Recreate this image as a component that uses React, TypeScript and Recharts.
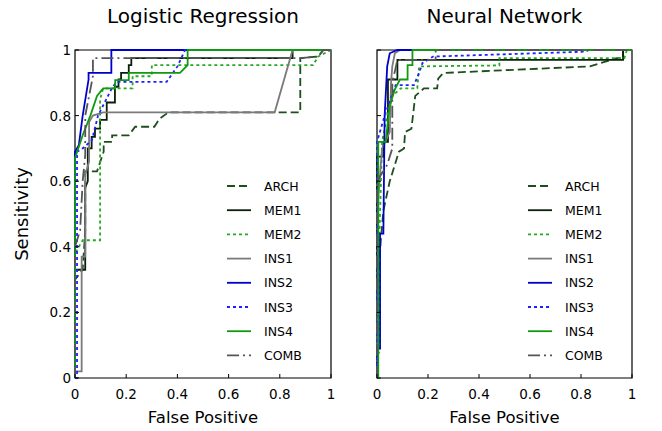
import React from "react";
import { LineChart, Line, XAxis, YAxis, ReferenceArea } from "recharts";

type Pt = [number, number];

const seriesNames = ["ARCH", "MEM1", "MEM2", "INS1", "INS2", "INS3", "INS4", "COMB"];
const axisTicks = [0, 0.2, 0.4, 0.6, 0.8, 1];
const tickLabels = ["0", "0.2", "0.4", "0.6", "0.8", "1"];

// Logistic Regression ROC points (fpr, tpr)
const lrArch: Pt[] = [[0, 0], [0, 0.3], [0.03, 0.33], [0.04, 0.45], [0.04, 0.63], [0.086, 0.63], [0.112, 0.69], [0.112, 0.72], [0.145, 0.72], [0.145, 0.74], [0.21, 0.74], [0.235, 0.766], [0.31, 0.766], [0.33, 0.79], [0.365, 0.81], [0.88, 0.81], [0.88, 0.975], [0.95, 0.98], [0.97, 1], [1, 1]];
const lrMem1: Pt[] = [[0, 0], [0, 0.33], [0.04, 0.33], [0.04, 0.58], [0.05, 0.6], [0.05, 0.7], [0.065, 0.7], [0.065, 0.735], [0.078, 0.735], [0.078, 0.76], [0.098, 0.76], [0.098, 0.787], [0.124, 0.787], [0.124, 0.84], [0.156, 0.84], [0.156, 0.888], [0.17, 0.888], [0.17, 0.91], [0.18, 0.91], [0.18, 0.93], [0.21, 0.93], [0.21, 0.954], [0.22, 0.954], [0.22, 0.975], [0.85, 0.975], [0.85, 1], [1, 1]];
const lrMem2: Pt[] = [[0, 0], [0, 0.38], [0.03, 0.42], [0.098, 0.42], [0.098, 0.85], [0.11, 0.883], [0.225, 0.883], [0.225, 0.92], [0.3, 0.92], [0.3, 0.954], [0.93, 0.954], [0.95, 0.98], [1, 1]];
const lrIns1: Pt[] = [[0, 0], [0, 0.02], [0.026, 0.02], [0.026, 0.37], [0.04, 0.37], [0.04, 0.62], [0.055, 0.66], [0.055, 0.78], [0.07, 0.8], [0.11, 0.81], [0.78, 0.81], [0.85, 1], [1, 1]];
const lrIns2: Pt[] = [[0, 0], [0, 0.69], [0.015, 0.71], [0.03, 0.8], [0.053, 0.91], [0.053, 0.93], [0.142, 0.93], [0.142, 1], [1, 1]];
const lrIns3: Pt[] = [[0, 0], [0.008, 0], [0.008, 0.69], [0.03, 0.7], [0.066, 0.725], [0.09, 0.8], [0.145, 0.885], [0.163, 0.903], [0.358, 0.903], [0.4, 0.95], [0.43, 1], [1, 1]];
const lrIns4: Pt[] = [[0, 0], [0, 0.67], [0.03, 0.74], [0.06, 0.8], [0.086, 0.86], [0.11, 0.883], [0.157, 0.883], [0.157, 0.908], [0.21, 0.908], [0.21, 0.93], [0.41, 0.93], [0.44, 0.954], [0.44, 1], [1, 1]];
const lrComb: Pt[] = [[0, 0], [0, 0.4], [0.02, 0.45], [0.03, 0.6], [0.04, 0.68], [0.04, 0.8], [0.07, 0.92], [0.07, 0.975], [0.88, 0.975], [0.95, 0.98], [0.97, 1], [1, 1]];

// Neural Network ROC points (fpr, tpr)
const nnArch: Pt[] = [[0, 0], [0.005, 0.3], [0.015, 0.42], [0.025, 0.51], [0.05, 0.6], [0.07, 0.65], [0.086, 0.69], [0.106, 0.7], [0.11, 0.75], [0.135, 0.76], [0.15, 0.86], [0.184, 0.883], [0.236, 0.883], [0.24, 0.913], [0.26, 0.93], [0.835, 0.95], [0.94, 0.975], [0.965, 0.975], [0.965, 1], [1, 1]];
const nnMem1: Pt[] = [[0, 0], [0, 0.675], [0.025, 0.675], [0.025, 0.72], [0.043, 0.72], [0.043, 0.91], [0.08, 0.91], [0.08, 0.97], [0.965, 0.97], [0.965, 1], [1, 1]];
const nnMem2: Pt[] = [[0, 0], [0, 0.07], [0.01, 0.08], [0.01, 0.45], [0.02, 0.72], [0.04, 0.8], [0.06, 0.86], [0.093, 0.883], [0.158, 0.883], [0.165, 0.95], [0.48, 0.953], [0.48, 0.975], [0.97, 0.975], [0.98, 1], [1, 1]];
const nnIns1: Pt[] = [[0, 0], [0.005, 0.55], [0.02, 0.7], [0.05, 0.75], [0.055, 0.9], [0.06, 0.95], [0.07, 0.99], [0.09, 1], [1, 1]];
const nnIns2: Pt[] = [[0, 0], [0, 0.09], [0.012, 0.09], [0.012, 0.44], [0.025, 0.44], [0.03, 0.8], [0.04, 0.95], [0.05, 0.99], [0.08, 1], [1, 1]];
const nnIns3: Pt[] = [[0, 0], [0, 0.72], [0.03, 0.8], [0.073, 0.893], [0.145, 0.893], [0.165, 0.93], [0.178, 0.96], [0.22, 0.98], [0.82, 0.995], [0.83, 1], [1, 1]];
const nnIns4: Pt[] = [[0, 0], [0.005, 0], [0.005, 0.72], [0.034, 0.72], [0.05, 0.83], [0.07, 0.88], [0.09, 0.91], [0.12, 0.91], [0.12, 0.954], [0.139, 0.954], [0.139, 1], [1, 1]];
const nnComb: Pt[] = [[0, 0], [0, 0.6], [0.04, 0.65], [0.06, 0.7], [0.06, 0.9], [0.08, 0.97], [0.23, 0.97], [0.23, 1], [1, 1]];

const styles: Record<string, { color: string; dash?: string }> = {
  ARCH: { color: "#1c4f1c", dash: "8 4" },
  MEM1: { color: "#0a1f0a" },
  MEM2: { color: "#22aa22", dash: "3 3" },
  INS1: { color: "#7a7a7a" },
  INS2: { color: "#0000cc" },
  INS3: { color: "#2020ff", dash: "3 3" },
  INS4: { color: "#119911" },
  COMB: { color: "#555555", dash: "12 4 2 4" },
};

const FONT = "DejaVu Sans, sans-serif";
const TICK_FONT = 13.5;

const toPts = (a: Pt[]) => a.map(([x, y]) => ({ x, y }));
const fmt = (v: number) => tickLabels[axisTicks.indexOf(v)] ?? String(v);

// tickSize/tickMargin are 0, so x/y passed in is the axis line position
const XTick = (props: any) => {
  const { x, y, payload } = props;
  return (
    <g>
      <line x1={x} x2={x} y1={y} y2={y - 4} stroke="#000" />
      <text x={x} y={y + 21} textAnchor="middle" fontSize={TICK_FONT} fontFamily={FONT} fill="#000">
        {fmt(payload.value)}
      </text>
    </g>
  );
};

const makeYTick = (showLabel: boolean) => (props: any) => {
  const { x, y, payload } = props;
  return (
    <g>
      <line x1={x} x2={x + 4} y1={y} y2={y} stroke="#000" />
      {showLabel && (
        <text x={x - 4} y={y + 5} textAnchor="end" fontSize={TICK_FONT} fontFamily={FONT} fill="#000">
          {fmt(payload.value)}
        </text>
      )}
    </g>
  );
};

function LegendBox({ left }: { left: number }) {
  return (
    <svg width={110} height={200} style={{ position: "absolute", left, top: 174 }}>
      {seriesNames.map((name, i) => {
        const s = styles[name];
        const cy = 12 + i * 24.2;
        return (
          <g key={name}>
            <line x1={3} x2={27} y1={cy} y2={cy} stroke={s.color} strokeWidth={1.8} strokeDasharray={s.dash} />
            <text x={40} y={cy + 4.5} fontSize={12.5} fontFamily={FONT} fill="#000">
              {name}
            </text>
          </g>
        );
      })}
    </svg>
  );
}

function Panel({ series, showYLabels, margin, width }: any) {
  return (
    <LineChart width={width} height={431} margin={margin}>
      <XAxis
        dataKey="x"
        type="number"
        domain={[0, 1]}
        ticks={axisTicks}
        height={30}
        axisLine={false}
        tickLine={false}
        tickSize={0}
        tickMargin={0}
        tick={<XTick />}
        interval={0}
      />
      <YAxis
        type="number"
        domain={[0, 1]}
        ticks={axisTicks}
        width={30}
        axisLine={false}
        tickLine={false}
        tickSize={0}
        tickMargin={0}
        tick={makeYTick(showYLabels)}
        interval={0}
      />
      <ReferenceArea x1={0} x2={1} y1={0} y2={1} fill="none" stroke="#000" strokeWidth={1.2} fillOpacity={0} />
      {series.map((d: Pt[], i: number) => {
        const name = seriesNames[i];
        const s = styles[name];
        return (
          <Line
            key={name}
            name={name}
            data={toPts(d)}
            dataKey="y"
            type="linear"
            stroke={s.color}
            strokeWidth={1.8}
            strokeDasharray={s.dash}
            dot={false}
            activeDot={false}
            isAnimationActive={false}
          />
        );
      })}
    </LineChart>
  );
}

export default function App() {
  const lrSeries = [lrArch, lrMem1, lrMem2, lrIns1, lrIns2, lrIns3, lrIns4, lrComb];
  const nnSeries = [nnArch, nnMem1, nnMem2, nnIns1, nnIns2, nnIns3, nnIns4, nnComb];
  const textStyle: React.CSSProperties = { position: "absolute", fontFamily: FONT, color: "#000", textAlign: "center", whiteSpace: "nowrap" };
  return (
    <div style={{ position: "absolute", left: 0, top: 0, width: 662, height: 431, background: "#fff", overflow: "hidden" }}>
      <div style={{ position: "absolute", left: 0, top: 0 }}>
        <Panel series={lrSeries} showYLabels width={340} margin={{ top: 50, left: 45, right: 9, bottom: 23 }} />
      </div>
      <div style={{ position: "absolute", left: 340, top: 0 }}>
        <Panel series={nnSeries} showYLabels={false} width={322} margin={{ top: 50, left: 7, right: 30, bottom: 23 }} />
      </div>
      <LegendBox left={224} />
      <LegendBox left={525} />
      <div style={{ ...textStyle, left: 75, width: 256, top: 3, fontSize: 20, lineHeight: "26px" }}>Logistic Regression</div>
      <div style={{ ...textStyle, left: 377, width: 255, top: 3, fontSize: 20, lineHeight: "26px" }}>Neural Network</div>
      <div style={{ ...textStyle, left: 75, width: 256, top: 406, fontSize: 16.5, lineHeight: "24px" }}>False Positive</div>
      <div style={{ ...textStyle, left: 377, width: 255, top: 406, fontSize: 16.5, lineHeight: "24px" }}>False Positive</div>
      <div style={{ ...textStyle, left: 22 - 60, top: 214 - 12, width: 120, fontSize: 18, lineHeight: "24px", transform: "rotate(-90deg)" }}>Sensitivity</div>
    </div>
  );
}
